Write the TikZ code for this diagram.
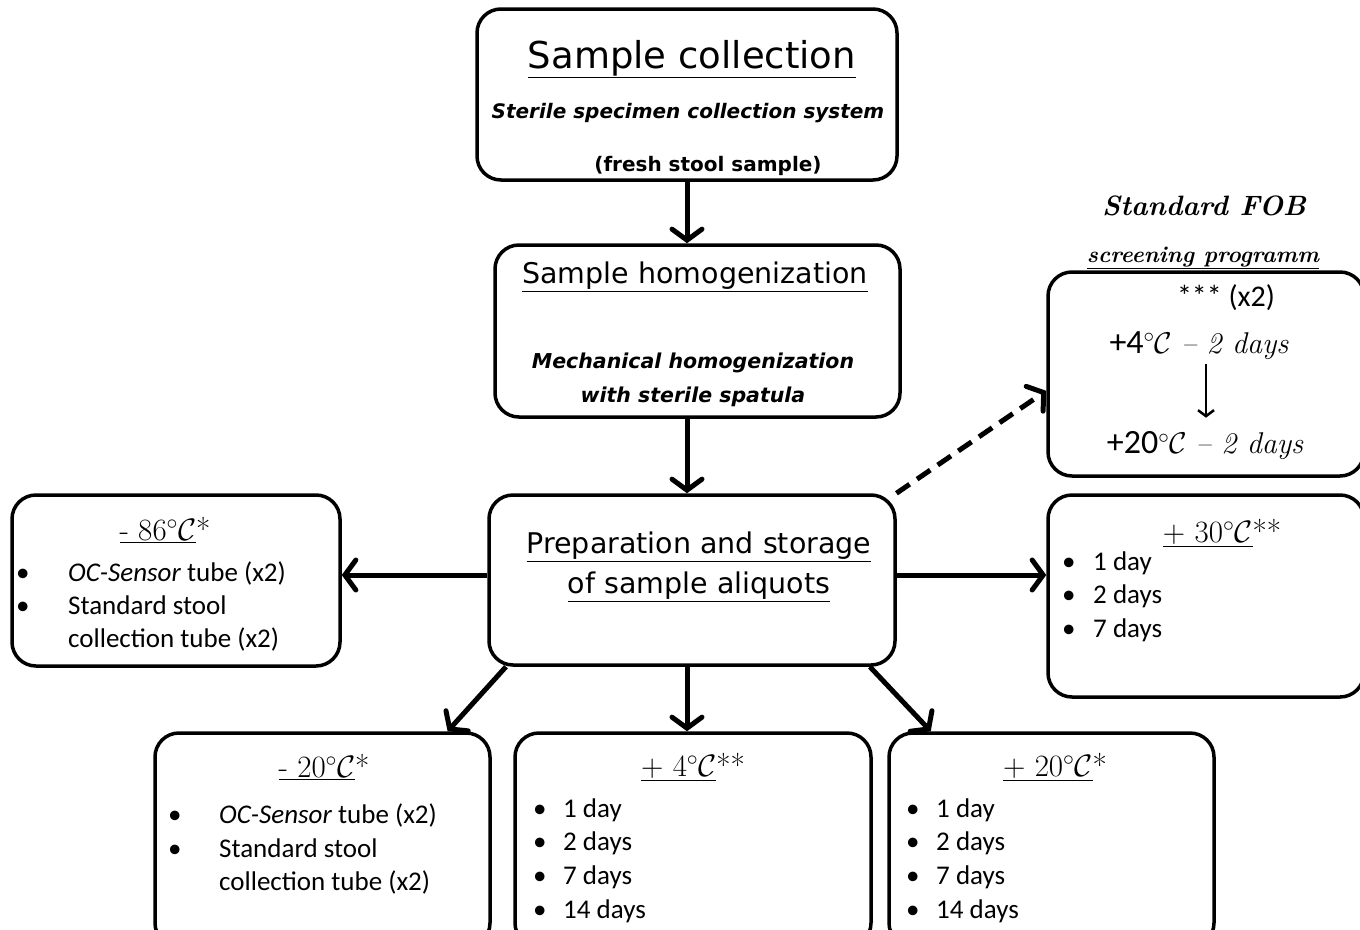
\RequirePackage{fix-cm}
\documentclass[tikz,border=0pt]{standalone}
\usepackage{fontspec}
\setsansfont{Carlito}
\newfontfamily\tahoma{DejaVu Sans}
\usetikzlibrary{arrows.meta}
\newcommand\tempC{$^{\circ}\mathcal{C}$}

\begin{document}
\begin{tikzpicture}[x=1pt, y=-1pt,
    box/.style={draw, line width=3.5pt, rounded corners=24pt, inner sep=0pt},
    ttl/.style={font=\tahoma\fontsize{28.5}{34}\selectfont, inner sep=0pt},
    sub/.style={font=\tahoma\bfseries\itshape\fontsize{20.5}{24}\selectfont, inner sep=0pt},
    item/.style={font=\sffamily\fontsize{27}{32}\selectfont, anchor=west, inner sep=0pt, text height=18pt, text depth=6pt},
    temp/.style={font=\rmfamily\fontsize{31}{36}\selectfont, inner sep=0pt},
    arr/.style={line width=5pt, -{Straight Barb[length=11pt, width=30pt, line cap=round]}},
  ]
  \useasboundingbox (0,0) rectangle (1360,929);

  % boxes
  \node[box, minimum width=420pt, minimum height=171pt] (coll) at (687,94.5) {};
  \node[box, minimum width=405pt, minimum height=172pt] (hom) at (697.5,331) {};
  \node[box, minimum width=406pt, minimum height=170pt] (prep) at (692,580) {};
  \node[box, minimum width=328pt, minimum height=171pt] (m86) at (176,580.5) {};
  \node[box, minimum width=316pt, minimum height=204pt] (fob) at (1206,374) {};
  \node[box, minimum width=316pt, minimum height=202pt] (p30) at (1206,596) {};
  \node[box, minimum width=335pt, minimum height=214pt] (b1) at (322.5,840) {};
  \node[box, minimum width=356pt, minimum height=214pt] (b2) at (693,840) {};
  \node[box, minimum width=325pt, minimum height=214pt] (b3) at (1051.5,840) {};

  % sample collection
  \node[font=\tahoma\fontsize{37}{40}\selectfont, inner sep=0pt] (collt) at (692,59) {\underline{Sample collection}};
  \node[sub, font=\tahoma\bfseries\itshape\fontsize{20}{24}\selectfont] (colls) at (688,113) {Sterile specimen collection system};
  \node[font=\tahoma\bfseries\fontsize{20}{24}\selectfont, inner sep=0pt] (collf) at (708,166) {(fresh stool sample)};

  % homogenization
  \node[ttl] (homt) at (695,277) {\underline{Sample homogenization}};
  \node[sub] (homs1) at (693,363) {Mechanical homogenization};
  \node[sub] (homs2) at (693,397) {with sterile spatula};

  % aliquots
  \node[ttl] (prept1) at (699,547) {\underline{Preparation and storage}};
  \node[ttl] (prept2) at (699,587) {\underline{of sample aliquots}};

  % -86
  \node[temp] (m86t) at (165,530) {\underline{- 86\tempC}*};
  \node[item] (m86b1) at (16,575) {\textbullet};
  \node[item] (m86b2) at (16,608) {\textbullet};
  \node[item] (m86i1) at (68,575) {\textit{OC-Sensor} tube (x2)};
  \node[item] (m86i2) at (68,608) {Standard stool};
  \node[item] (m86i3) at (68,641) {collection tube (x2)};

  % FOB screening
  \node[font=\rmfamily\bfseries\itshape\fontsize{28}{32}\selectfont, inner sep=0pt] (fobt) at (1204,206) {Standard FOB};
  \node[font=\rmfamily\bfseries\itshape\fontsize{23}{26}\selectfont, inner sep=0pt] (fobs) at (1203,258) {\underline{screening programm}};
  \node[item, anchor=center, font=\sffamily\fontsize{30}{32}\selectfont] (fobx) at (1226,300) {*** (x2)};
  \node[temp, font=\rmfamily\fontsize{30}{34}\selectfont] (fob4) at (1199,346) {{\sffamily\fontsize{34}{36}\selectfont +4}\tempC\ {\itshape -- 2 days}};
  \node[temp, font=\rmfamily\fontsize{30}{34}\selectfont] (fob20) at (1205,446) {{\sffamily\fontsize{34}{36}\selectfont +20}\tempC\ {\itshape -- 2 days}};
  \draw[line width=2.5pt, -{Straight Barb[length=6pt, width=16pt]}, shorten <=4pt, shorten >=14pt] (fob4.south -| fob.center) -- (fob20.north -| fob.center);

  % +30
  \node[temp] (p30t) at (1222,533) {\underline{+ 30\tempC}**};
  \foreach \t [count=\i] in {1 day, 2 days, 7 days} {
    \node[item] (p30b\i) at (1062,{564+33.5*(\i-1)}) {\textbullet};
    \node[item] (p30i\i) at (1093,{564+33.5*(\i-1)}) {\t};
  }

  % -20
  \node[temp] (b1t) at (324,767) {\underline{- 20\tempC}*};
  \node[item] (b1b1) at (168,817) {\textbullet};
  \node[item] (b1b2) at (168,851) {\textbullet};
  \node[item] (b1i1) at (219,817) {\textit{OC-Sensor} tube (x2)};
  \node[item] (b1i2) at (219,851) {Standard stool};
  \node[item] (b1i3) at (219,884) {collection tube (x2)};

  % +4
  \node[temp] (b2t) at (693,767) {\underline{+ 4\tempC}**};
  \foreach \t [count=\i] in {1 day, 2 days, 7 days, 14 days} {
    \node[item] (b2b\i) at (533,{811+33.7*(\i-1)}) {\textbullet};
    \node[item] (b2i\i) at (563,{811+33.7*(\i-1)}) {\t};
  }

  % +20
  \node[temp] (b3t) at (1055,767) {\underline{+ 20\tempC}*};
  \foreach \t [count=\i] in {1 day, 2 days, 7 days, 14 days} {
    \node[item] (b3b\i) at (906,{811+33.7*(\i-1)}) {\textbullet};
    \node[item] (b3i\i) at (936,{811+33.7*(\i-1)}) {\t};
  }

  % arrows
  \draw[arr] (coll.south) -- (hom.north -| coll.south);
  \draw[arr] (hom.south -| coll.south) -- (prep.north -| coll.south);
  \draw[arr] ([yshift=5pt]prep.west) -- ([yshift=5pt]prep.west -| m86.east);
  \draw[arr] ([yshift=5pt]prep.east) -- ([yshift=5pt]prep.east -| p30.west);
  \draw[arr] (prep.205.8) -- (b1.41.8);
  \draw[arr] (prep.south -| coll.south) -- (b2.north -| coll.south);
  \draw[arr] (prep.334.8) -- (b3.138.6);
  \draw[arr, dash pattern=on 16pt off 9pt] (prep.23.2) -- (fob.186.9);
\end{tikzpicture}
\end{document}
